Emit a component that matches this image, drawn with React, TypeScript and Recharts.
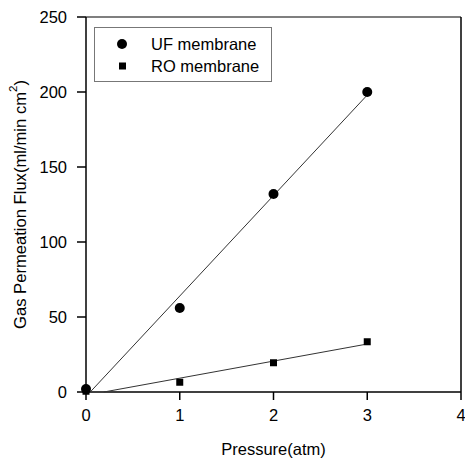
import { ScatterChart, Scatter, XAxis, YAxis, ReferenceLine, Label, Legend } from "recharts";

const pressureTicks = [0, 1, 2, 3, 4];
const fluxTicks = [0, 50, 100, 150, 200, 250];

const ufPoints = [
  { x: 0, y: 2 },
  { x: 1, y: 56 },
  { x: 2, y: 132 },
  { x: 3, y: 200 },
];
const roPoints = [
  { x: 0, y: 0.5 },
  { x: 1, y: 6.5 },
  { x: 2, y: 19.5 },
  { x: 3, y: 33.5 },
];
// fitted lines, end points
const ufFit = [
  { x: 0.045, y: 0 },
  { x: 3, y: 198 },
];
const roFit = [
  { x: 0.19, y: 0 },
  { x: 3, y: 32 },
];

const FONT = "'Liberation Sans', Arial, sans-serif";

function YTitle({ viewBox }: any) {
  const cx = 20;
  const cy = viewBox.y + viewBox.height / 2;
  return (
    <text
      x={cx}
      y={cy}
      transform={`rotate(-90 ${cx} ${cy})`}
      textAnchor="middle"
      dominantBaseline="central"
      fontFamily={FONT}
      fontSize={16.6}
      fill="#000"
    >
      Gas Permeation Flux(ml/min cm
      <tspan dy={-7} fontSize={11.5}>2</tspan>
      <tspan dy={7}>)</tspan>
    </text>
  );
}

function LegendBox() {
  return (
    <div
      style={{
        position: "absolute",
        left: 94,
        top: 27,
        width: 178,
        height: 55,
        border: "1px solid #777",
        background: "#fff",
        boxSizing: "border-box",
      }}
    >
      <svg width={176} height={53} style={{ position: "absolute", left: 0, top: 0 }}>
        <circle cx={27} cy={16} r={5} fill="#000" />
        <rect x={24} y={34.5} width={7} height={7} fill="#000" />
        <text x={56} y={16} dominantBaseline="central" fontFamily={FONT} fontSize={16.5}>
          UF membrane
        </text>
        <text x={56} y={38} dominantBaseline="central" fontFamily={FONT} fontSize={16.5}>
          RO membrane
        </text>
      </svg>
    </div>
  );
}

const square = (props: any) => (
  <rect x={props.cx - 3.5} y={props.cy - 3.5} width={7} height={7} fill="#000" />
);
const dot = (props: any) => <circle cx={props.cx} cy={props.cy} r={5} fill="#000" />;
const none = () => <g />;

export default function App() {
  const tickStyle = { fontSize: 16.5, fill: "#000", fontFamily: FONT };
  return (
    <div style={{ position: "absolute", left: 0, top: 0, width: 465, height: 460, background: "#fff" }}>
      <ScatterChart width={465} height={460} margin={{ top: 17, right: 4, bottom: 0, left: 0 }}>
        <XAxis
          type="number"
          dataKey="x"
          domain={[0, 4]}
          ticks={pressureTicks}
          interval={0}
          height={68}
          tickSize={8}
          tickMargin={9}
          tick={tickStyle}
          stroke="#000"
          strokeWidth={1.5}
        >
          <Label
            value="Pressure(atm)"
            position="insideBottom"
            offset={5}
            style={{ fontSize: 16.5, fill: "#000", fontFamily: FONT }}
          />
        </XAxis>
        <YAxis
          type="number"
          dataKey="y"
          domain={[0, 250]}
          ticks={fluxTicks}
          interval={0}
          width={86}
          tickSize={9}
          tickMargin={10}
          tick={tickStyle}
          stroke="#000"
          strokeWidth={1.5}
        >
          <Label content={YTitle} />
        </YAxis>
        <ReferenceLine y={250} stroke="#000" strokeWidth={1.2} />
        <ReferenceLine x={4} stroke="#000" strokeWidth={1.5} />
        <Scatter data={ufFit} line={{ stroke: "#333", strokeWidth: 1 }} shape={none} isAnimationActive={false} />
        <Scatter data={roFit} line={{ stroke: "#333", strokeWidth: 1 }} shape={none} isAnimationActive={false} />
        <Scatter name="UF membrane" data={ufPoints} shape={dot} isAnimationActive={false} />
        <Scatter name="RO membrane" data={roPoints} shape={square} isAnimationActive={false} />
        <Legend content={() => null} />
      </ScatterChart>
      <LegendBox />
    </div>
  );
}
